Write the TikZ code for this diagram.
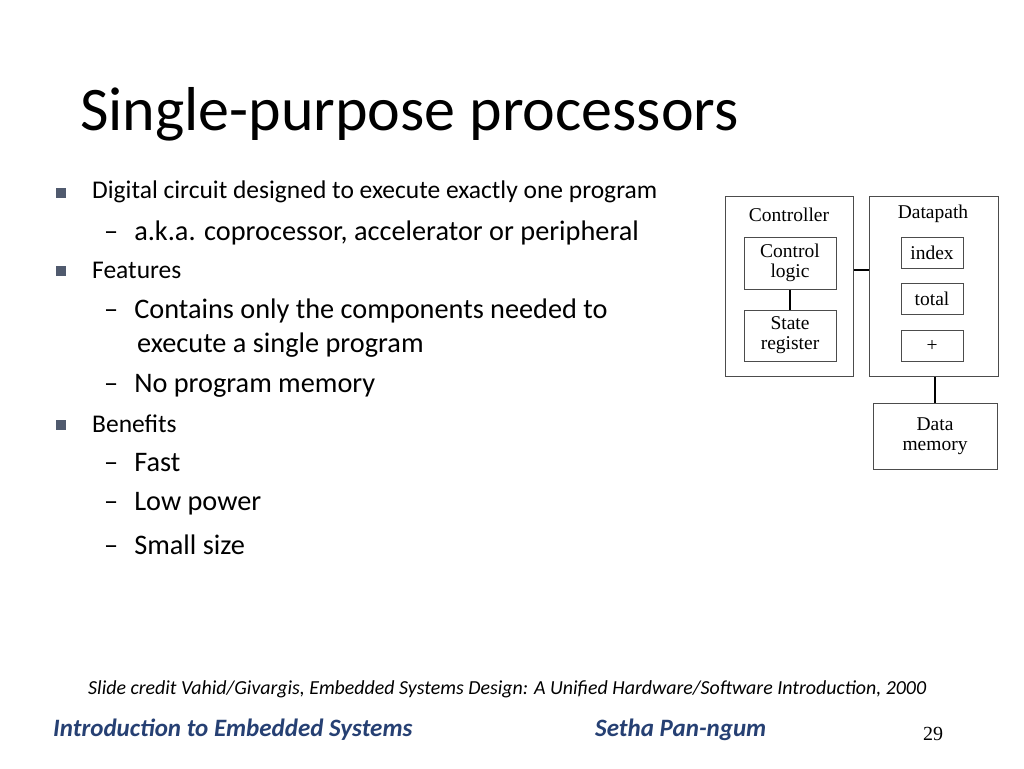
\documentclass[tikz,border=0pt]{standalone}
\usepackage{fontspec}
\setmainfont{Carlito}
\newfontfamily\serifface{Liberation Serif}
\usetikzlibrary{positioning}
\definecolor{footblue}{RGB}{38,64,115}
\definecolor{bulletgray}{RGB}{80,90,110}
\tikzstyle{outerbox} = [rectangle, draw=black!70, line width=1pt, anchor=north west, inner sep=0pt]
\tikzstyle{partbox} = [rectangle, draw=black!70, line width=1pt, minimum width=62pt, minimum height=31pt, font=\serifface\fontsize{19.5}{20}\selectfont, align=center, inner sep=0pt]
\tikzstyle{ctrlbox} = [partbox, minimum width=92pt, minimum height=52pt]
\tikzstyle{wire} = [line width=1.5pt]
\tikzstyle{lvlone} = [anchor=west, font=\fontsize{25.5}{30}\selectfont, inner sep=0pt]
\tikzstyle{lvltwo} = [anchor=west, font=\fontsize{28.3}{32}\selectfont, inner sep=0pt, align=left]
\tikzstyle{sq} = [rectangle, fill=bulletgray, minimum size=10pt, inner sep=0pt]
\begin{document}
\begin{tikzpicture}[x=1pt, y=-1pt]
\useasboundingbox (0,0) rectangle (1024,768);

\node (title) [anchor=west, inner sep=0pt, font=\fontsize{62}{70}\selectfont] at (80,114) {Single-purpose processors};

\node (s1) [sq] at (61,193) {};
\node (t1) [lvlone] at (92,192) {Digital circuit designed to execute exactly one program};
\node (t2) [lvltwo] at (104,233) {--\hspace{16pt}a.k.a. coprocessor, accelerator or peripheral};
\node (s2) [sq] at (61,271) {};
\node (t3) [lvlone] at (92,270) {Features};
\node (t4) [lvltwo] at (104,311) {--\hspace{16pt}Contains only the components needed to};
\node (t5) [lvltwo] at (137,345) {execute a single program};
\node (t6) [lvltwo] at (104,386) {--\hspace{16pt}No program memory};
\node (s3) [sq] at (61,425) {};
\node (t7) [lvlone] at (92,424) {Benefits};
\node (t8) [lvltwo] at (104,463) {--\hspace{16pt}Fast};
\node (t9) [lvltwo] at (104,504) {--\hspace{16pt}Low power};
\node (t10) [lvltwo] at (104,545) {--\hspace{16pt}Small size};

% controller and datapath
\node (ctrl) [outerbox, minimum width=128pt, minimum height=180pt] at (725,196) {};
\node (dpath) [outerbox, minimum width=129pt, minimum height=180pt] at (869,196) {};
\node [partbox, draw=none, minimum height=0pt] at (789,215) {Controller};
\node [partbox, draw=none, minimum height=0pt] at (933,214) {Datapath};
\node (clogic) [ctrlbox] at (790,263) {Control\\[0pt]logic};
\node (sreg) [ctrlbox, minimum height=51pt] at (790,335.5) {State\\[0pt]register};
\node (idx) [partbox] at (932,252.5) {index};
\node (tot) [partbox] at (932,298.5) {total};
\node (plus) [partbox] at (932,345.5) {+};
\node (dmem) [partbox, minimum width=124pt, minimum height=66pt] at (935,436) {Data\\[0pt]memory};

\draw [wire] (clogic.south) -- (sreg.north);
\draw [wire] (ctrl.east |- 0,270) -- (dpath.west |- 0,270);
\draw [wire] (dmem.north) -- (dmem.north |- dpath.south);

% footer
\node (credit) [anchor=west, inner sep=0pt, font=\itshape\fontsize{19.9}{22}\selectfont] at (88,689) {Slide credit Vahid/Givargis, Embedded Systems Design: A Unified Hardware/Software Introduction, 2000};
\node (course) [anchor=west, inner sep=0pt, text=footblue, font=\bfseries\itshape\fontsize{25}{28}\selectfont] at (53,730) {Introduction to Embedded Systems};
\node (author) [anchor=west, inner sep=0pt, text=footblue, font=\bfseries\itshape\fontsize{25}{28}\selectfont] at (595,730) {Setha Pan-ngum};
\node (page) [inner sep=0pt, font=\serifface\fontsize{20}{22}\selectfont] at (933,734) {29};
\end{tikzpicture}
\end{document}
